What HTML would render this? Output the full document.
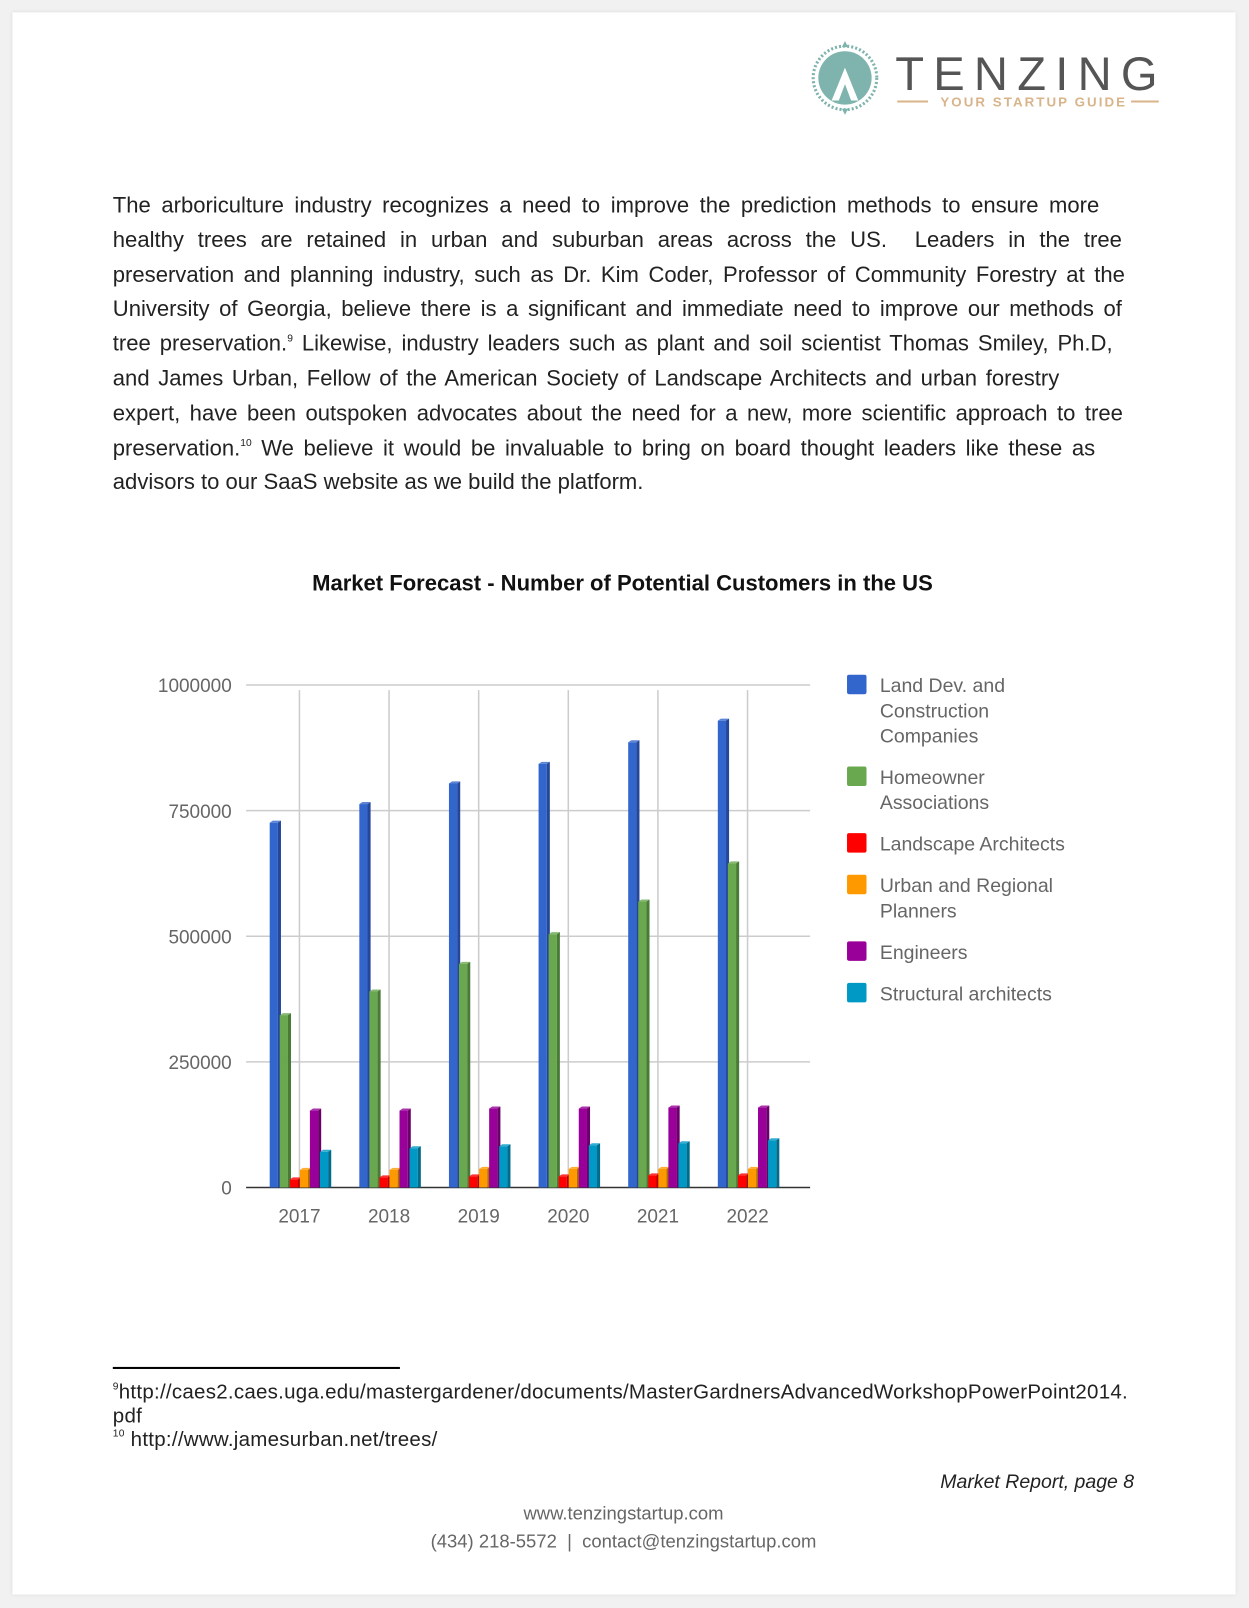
<!DOCTYPE html>
<html><head><meta charset="utf-8">
<style>
html,body{margin:0;padding:0;}
body{width:1249px;height:1608px;background:#f1f1f1;overflow:hidden;font-family:"Liberation Sans",sans-serif;}
#wrap{position:absolute;left:0;top:0;width:1218px;height:1568px;transform:scale(1.02545);transform-origin:0 0;}
.page{position:absolute;left:12px;top:12px;width:1193px;height:1543px;background:#fff;box-shadow:0 0 3px #ccc;}
.body-text{position:absolute;left:110px;top:184px;width:990px;font-size:21.5px;line-height:33.8px;color:#222;}
.body-text div{text-align:justify;text-align-last:justify;white-space:nowrap;}
.body-text div.last{text-align-last:left;}
sup{font-size:10px;vertical-align:9px;line-height:0;}
.fn{position:absolute;left:110px;font-size:20px;letter-spacing:0.25px;color:#222;}
</style></head><body>
<div id="wrap">
<div class="page"></div>

<svg style="position:absolute;left:785px;top:38px" width="360" height="80">
 <circle cx="39" cy="38" r="31" fill="none" stroke="#7fb3ad" stroke-width="3" stroke-dasharray="2 2"/>
 <circle cx="39" cy="38" r="26" fill="#7fb3ad"/>
 <path d="M26 60 L39 28 L52 60 Z" fill="#fff"/>
 <path d="M33 60 L39 44 L45 60 Z" fill="#7fb3ad"/>
 <path d="M39 2 L42 8 L36 8Z M39 74 L42 68 L36 68Z" fill="#7fb3ad"/>
 <text x="88" y="50" font-family="Liberation Sans" font-size="46" fill="#555" letter-spacing="9">TENZING</text>
 <line x1="90" y1="61" x2="120" y2="61" stroke="#d9b48b" stroke-width="2"/>
 <text x="132" y="66" font-family="Liberation Sans" font-size="13" font-weight="bold" fill="#d9b48b" letter-spacing="2">YOUR STARTUP GUIDE</text>
 <line x1="318" y1="61" x2="345" y2="61" stroke="#d9b48b" stroke-width="2"/>
</svg>

<div class="body-text">
<div style="width:962px">The arboriculture industry recognizes a need to improve the prediction methods to ensure more</div>
<div style="width:984px">healthy trees are retained in urban and suburban areas across the US.&nbsp; Leaders in the tree</div>
<div style="width:987px">preservation and planning industry, such as Dr. Kim Coder, Professor of Community Forestry at the</div>
<div style="width:984px">University of Georgia, believe there is a significant and immediate need to improve our methods of</div>
<div style="width:975px">tree preservation.<sup>9</sup> Likewise, industry leaders such as plant and soil scientist Thomas Smiley, Ph.D,</div>
<div style="width:923px">and James Urban, Fellow of the American Society of Landscape Architects and urban forestry</div>
<div style="width:985px">expert, have been outspoken advocates about the need for a new, more scientific approach to tree</div>
<div style="width:958px">preservation.<sup>10</sup> We believe it would be invaluable to bring on board thought leaders like these as</div>
<div class="last">advisors to our SaaS website as we build the platform.</div>
</div>

<svg id="chart" style="position:absolute;left:0;top:0" width="1218" height="1300"></svg>

<div style="position:absolute;left:110px;top:1333px;width:280px;height:2px;background:#000"></div>
<div class="fn" style="top:1347px"><sup>9</sup>http://caes2.caes.uga.edu/mastergardener/documents/MasterGardnersAdvancedWorkshopPowerPoint2014.<br>pdf</div>
<div class="fn" style="top:1393px"><sup>10</sup> http://www.jamesurban.net/trees/</div>
<div style="position:absolute;right:112px;top:1435px;font-size:19px;font-style:italic;color:#222">Market Report, page 8</div>
<div style="position:absolute;left:0;width:1216px;text-align:center;top:1466px;font-size:18px;color:#666">www.tenzingstartup.com</div>
<div style="position:absolute;left:0;width:1216px;text-align:center;top:1493px;font-size:18px;color:#666">(434) 218-5572 &nbsp;|&nbsp; contact@tenzingstartup.com</div>
</div>

<script>
const categories=["2017","2018","2019","2020","2021","2022"];
const seriesNames=["Land Dev. and|Construction|Companies","Homeowner|Associations","Landscape Architects","Urban and Regional|Planners","Engineers","Structural architects"];
const landDev=[726000,763000,804000,843000,886000,929000];
const homeowner=[343000,390000,445000,504000,569000,645000];
const landscape=[16000,20000,22000,22000,24000,24000];
const planners=[35000,35000,37000,37000,37000,37000];
const engineers=[153000,153000,157000,157000,159000,159000];
const structural=[71000,78000,82000,84000,88000,94000];
const yTicks=[0,250000,500000,750000,1000000];

const series=[landDev,homeowner,landscape,planners,engineers,structural];
const colors=["#3366cc","#6aa84f","#ff0000","#ff9900","#990099","#0099c6"];
const darks=["#24479a","#4a7a37","#b30000","#b36b00","#6b006b","#006b8b"];
const NS="http://www.w3.org/2000/svg";
const svg=document.getElementById('chart');
function mk(tag,attrs,parent){const e=document.createElementNS(NS,tag);for(const k in attrs)e.setAttribute(k,attrs[k]);(parent||svg).appendChild(e);return e;}
const x0=240,x1=790,yBase=1158,yTop=668;
const y=v=>yBase-(v/1000000)*(yBase-yTop);
const cx=i=>292+i*87.4;

const title=mk('text',{x:607,y:576,'text-anchor':'middle','font-size':21.5,'font-weight':'bold',fill:'#111'});
title.textContent="Market Forecast - Number of Potential Customers in the US";



yTicks.forEach(t=>{
 const l=mk('line',{x1:x0,x2:x1,y1:y(t),y2:y(t),stroke:t===0?'#333':'#ccc','stroke-width':1.5});
 
 
 const tx=mk('text',{x:226,y:y(t)+7,'text-anchor':'end','font-size':18.5,fill:'#666'});
 tx.textContent=String(t);
 
 
});
categories.forEach((c,i)=>{
 const l=mk('line',{x1:cx(i),x2:cx(i),y1:673,y2:yBase,stroke:'#ccc','stroke-width':1.5});
 
 
 const tx=mk('text',{x:cx(i),y:1192,'text-anchor':'middle','font-size':18.5,fill:'#666'});
 tx.textContent=c;
 
 
});
categories.forEach((c,i)=>{
 series.forEach((s,j)=>{
  const bx=cx(i)-29+j*9.8, top=y(s[i]), w=8, d=3;
  const g=mk('g',{});
  
  
  mk('rect',{x:bx,y:top,width:w,height:yBase-top,fill:colors[j]},g);
  mk('polygon',{points:`${bx+w},${top} ${bx+w+d},${top-2} ${bx+w+d},${yBase} ${bx+w},${yBase}`,fill:darks[j]},g);
  mk('polygon',{points:`${bx},${top} ${bx+d},${top-2} ${bx+w+d},${top-2} ${bx+w},${top}`,fill:colors[j],opacity:0.8},g);
 });
});
let ly=668;
seriesNames.forEach((n,j)=>{
 const g=mk('g',{});
 
 
 mk('rect',{x:826,y:ly-10,width:19,height:19,rx:2,fill:colors[j]},g);
 const lines=n.split('|');
 lines.forEach((t,k)=>{
  const tx=mk('text',{x:858,y:ly+7+k*24.5,'font-size':19,fill:'#666'},g);
  tx.textContent=t;
 });
 ly+=lines.length*24.5+16;
});
</script>
</body></html>
